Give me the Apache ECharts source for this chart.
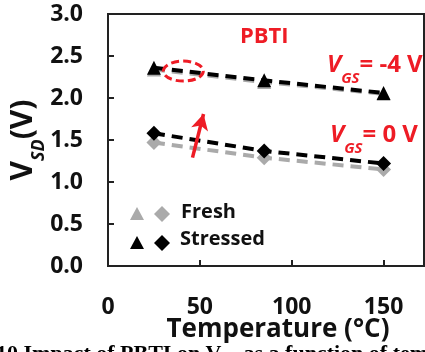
<!DOCTYPE html>
<html>
<head>
<meta charset="utf-8">
<script src="https://cdn.jsdelivr.net/npm/echarts@6/dist/echarts.min.js"></script>
<style>
html,body{margin:0;padding:0;background:#fff;}
#chart{width:425px;height:352px;}
</style>
</head>
<body>
<div id="chart"></div>
<script>
// temperatures (°C)
var temps = [25, 85, 150];
// VSD (V) at VGS = -4 V
var fresh4 = [2.34, 2.19, 2.05];
var stressed4 = [2.36, 2.21, 2.06];
// VSD (V) at VGS = 0 V
var fresh0 = [1.47, 1.29, 1.15];
var stressed0 = [1.58, 1.37, 1.22];
var xTicks = [0, 50, 100, 150];

var FONT = 'Open Sans';
var RED = '#ee1c25';
var GREY = '#aaaaaa';

function pts(ys){
	var out = [];
	for (var i = 0; i < temps.length; i++) out.push([temps[i], ys[i]]);
	return out;
}
function mk(name, ys, color, symbol, z){
	return {
		name: name, type: 'line', data: pts(ys), z: z,
		symbol: symbol, symbolSize: symbol == 'triangle' ? 14 : 15,
		itemStyle: {color: color},
		lineStyle: {color: color, width: 4, type: [11, 7]},
		animation: false
	};
}

var myChart = echarts.init(document.getElementById('chart'));
var option = {
	animation: false,
	grid: {left: 108, top: 14, right: 1, bottom: 86, show: true, borderColor: '#222', borderWidth: 2,
		containLabel: false, outerBoundsMode: 'none'},
	xAxis: {
		type: 'value', min: 0, max: 172, interval: 50,
		axisLine: {lineStyle: {color: '#222', width: 2}},
		axisTick: {inside: true, length: 6, lineStyle: {color: '#222', width: 2}},
		splitLine: {show: false},
		axisLabel: {
			margin: 30, color: '#111', fontFamily: FONT, fontWeight: 'bold', fontSize: 23,
			formatter: function(v){ return xTicks.indexOf(v) >= 0 ? String(v) : ''; }
		},
		name: 'Temperature (°C)', nameLocation: 'middle', nameGap: 51, nameMoveOverlap: false,
		nameTextStyle: {color: '#111', fontFamily: FONT, fontWeight: 'bold', fontSize: 26, padding: [0, 0, 0, 24]}
	},
	yAxis: {
		type: 'value', min: 0, max: 3, interval: 0.5,
		axisLine: {lineStyle: {color: '#222', width: 2}},
		axisTick: {inside: true, length: 6, lineStyle: {color: '#222', width: 2}},
		splitLine: {show: false},
		axisLabel: {
			margin: 25, color: '#111', fontFamily: FONT, fontWeight: 'bold', fontSize: 23,
			formatter: function(v){ return v.toFixed(1); }
		},
		name: '{v|V}{s|SD}{v|(V)}', nameLocation: 'middle', nameGap: 70, nameRotate: 90, nameMoveOverlap: false,
		nameTextStyle: {
			rich: {
				v: {fontFamily: FONT, fontWeight: 'bold', fontSize: 30, color: '#111'},
				s: {fontFamily: FONT, fontWeight: 'bold', fontStyle: 'italic', fontSize: 18, color: '#111', verticalAlign: 'bottom', padding: [0, 0, -10, 0]}
			}
		}
	},
	series: [
		mk('Fresh -4V', fresh4, GREY, 'triangle', 2),
		mk('Fresh 0V', fresh0, GREY, 'diamond', 2),
		mk('Stressed -4V', stressed4, '#000', 'triangle', 3),
		mk('Stressed 0V', stressed0, '#000', 'diamond', 3)
	]
};
// red arrow: shift from fresh to stressed
option.series[3].markLine = {
	silent: true, symbol: ['none', 'arrow'], symbolSize: [13, 16],
	label: {show: false},
	lineStyle: {color: RED, width: 3.5, type: 'solid'},
	data: [[{coord: [46, 1.29]}, {coord: [52, 1.81]}]]
};
myChart.setOption(option);

// annotations
var ec = myChart.convertToPixel({gridIndex: 0}, [41, 2.32]);
var rich = {
	vi: {fontFamily: FONT, fontWeight: 'bold', fontStyle: 'italic', fontSize: 24, fill: RED},
	sub: {fontFamily: FONT, fontWeight: 'bold', fontStyle: 'italic', fontSize: 15, fill: RED, verticalAlign: 'bottom', padding: [0, 0, -9, 0]},
	n: {fontFamily: FONT, fontWeight: 'bold', fontSize: 24, fill: RED}
};
function tri(cx, cy, c){
	return {type: 'polygon', shape: {points: [[cx, cy - 7], [cx + 7, cy + 6], [cx - 7, cy + 6]]}, style: {fill: c}};
}
function dia(cx, cy, c){
	return {type: 'polygon', shape: {points: [[cx, cy - 8], [cx + 8, cy], [cx, cy + 8], [cx - 8, cy]]}, style: {fill: c}};
}
myChart.setOption({
	graphic: [
		{type: 'ellipse', shape: {cx: ec[0], cy: ec[1], rx: 20, ry: 10}, z: 10,
			style: {fill: 'none', stroke: RED, lineWidth: 3, lineDash: [8, 4]}},
		{type: 'text', left: 240, top: 26, z: 10,
			style: {text: 'PBTI', fill: RED, font: 'bold 22px "Open Sans"'}},
		{type: 'text', left: 327, top: 53, z: 10,
			style: {text: '{vi|V}{sub|GS}{n|= -4 V}', rich: rich}},
		{type: 'text', left: 330, top: 123, z: 10,
			style: {text: '{vi|V}{sub|GS}{n|= 0 V}', rich: rich}},
		tri(137, 214, GREY), dia(162, 214, GREY),
		tri(137, 243, '#000'), dia(162, 243, '#000'),
		{type: 'text', left: 181, top: 202, style: {text: 'Fresh', fill: '#111', font: 'bold 20px "Open Sans"'}},
		{type: 'text', left: 180, top: 229, style: {text: 'Stressed', fill: '#111', font: 'bold 20px "Open Sans"'}},
		{type: 'text', left: -4, top: 343,
			style: {text: '10 Impact of PBTI on V    as a function of temperature', fill: '#000', font: 'bold 22px "Liberation Serif"'}}
	]
});
</script>
</body>
</html>
